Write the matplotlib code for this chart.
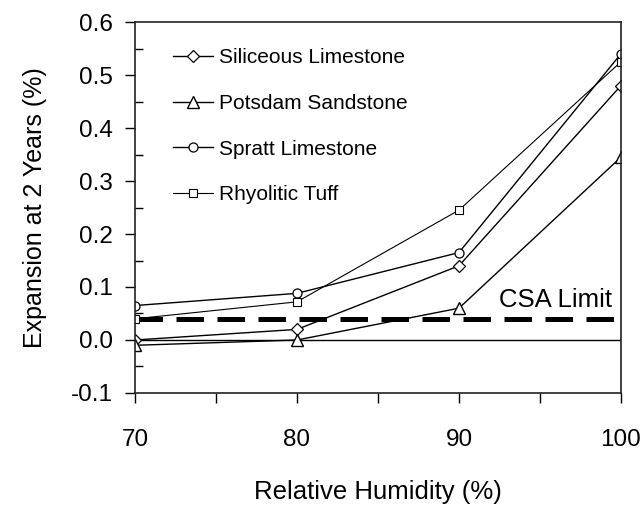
import matplotlib
matplotlib.use("Agg")
import matplotlib.pyplot as plt
from matplotlib.ticker import MultipleLocator

humidity = [70, 80, 90, 100]
siliceous = [0.0, 0.02, 0.14, 0.48]
potsdam = [-0.01, 0.0, 0.06, 0.345]
spratt = [0.065, 0.088, 0.165, 0.54]
rhyolitic = [0.04, 0.072, 0.245, 0.525]
csa_limit = 0.04

plt.rcParams["font.family"] = ["Liberation Sans", "DejaVu Sans"]

fig = plt.figure(figsize=(6.44, 5.05), dpi=100)
ax = fig.add_axes([0.2096, 0.2218, 0.7546, 0.7346])

ax.plot(humidity, siliceous, color="black", lw=1.0, marker="D", ms=6.5,
        mfc="white", mec="black", mew=0.9, label="Siliceous Limestone")
ax.plot(humidity, potsdam, color="black", lw=1.0, marker="^", ms=9,
        mfc="white", mec="black", mew=1.0, label="Potsdam Sandstone")
ax.plot(humidity, spratt, color="black", lw=1.0, marker="o", ms=6.5,
        mfc="white", mec="black", mew=0.9, label="Spratt Limestone")
ax.plot(humidity, rhyolitic, color="black", lw=0.8, marker="s", ms=5.5,
        mfc="white", mec="black", mew=0.8, label="Rhyolitic Tuff")

# zero line and CSA expansion limit
ax.axhline(0.0, color="black", lw=1.0, zorder=1)
ax.axhline(csa_limit, color="black", lw=3.6, dashes=(5.5, 2.7), zorder=1)
ax.text(99.45, 0.075, "CSA Limit", ha="right", va="center", fontsize=18.5)

ax.set_xlim(70, 100)
ax.set_ylim(-0.1, 0.6)
ax.xaxis.set_major_locator(MultipleLocator(10))
ax.xaxis.set_minor_locator(MultipleLocator(5))
ax.yaxis.set_major_locator(MultipleLocator(0.1))
ax.yaxis.set_minor_locator(MultipleLocator(0.05))
ax.yaxis.set_major_formatter(plt.FuncFormatter(lambda v, p: f"{v:.1f}"))

ax.tick_params(axis="both", which="major", direction="out", length=7,
               width=1.0, labelsize=17.5, colors="black")
ax.tick_params(axis="x", which="major", pad=19)
ax.tick_params(axis="y", which="major", pad=9)
ax.tick_params(axis="x", which="minor", direction="out", length=7, width=1.0)
ax.tick_params(axis="y", which="minor", direction="in", length=6, width=1.0)

for s in ax.spines.values():
    s.set_linewidth(1.2)
    s.set_color("#222222")

ax.set_xlabel("Relative Humidity (%)", fontsize=18.5, labelpad=21)
ax.set_ylabel("Expansion at 2 Years (%)", fontsize=18, labelpad=17)

leg = ax.legend(loc="upper left", bbox_to_anchor=(0.04, 0.98), frameon=False,
                handlelength=1.9, handletextpad=0.3, labelspacing=1.28,
                prop={"size": 15})

fig.savefig("out.png", dpi=100)
